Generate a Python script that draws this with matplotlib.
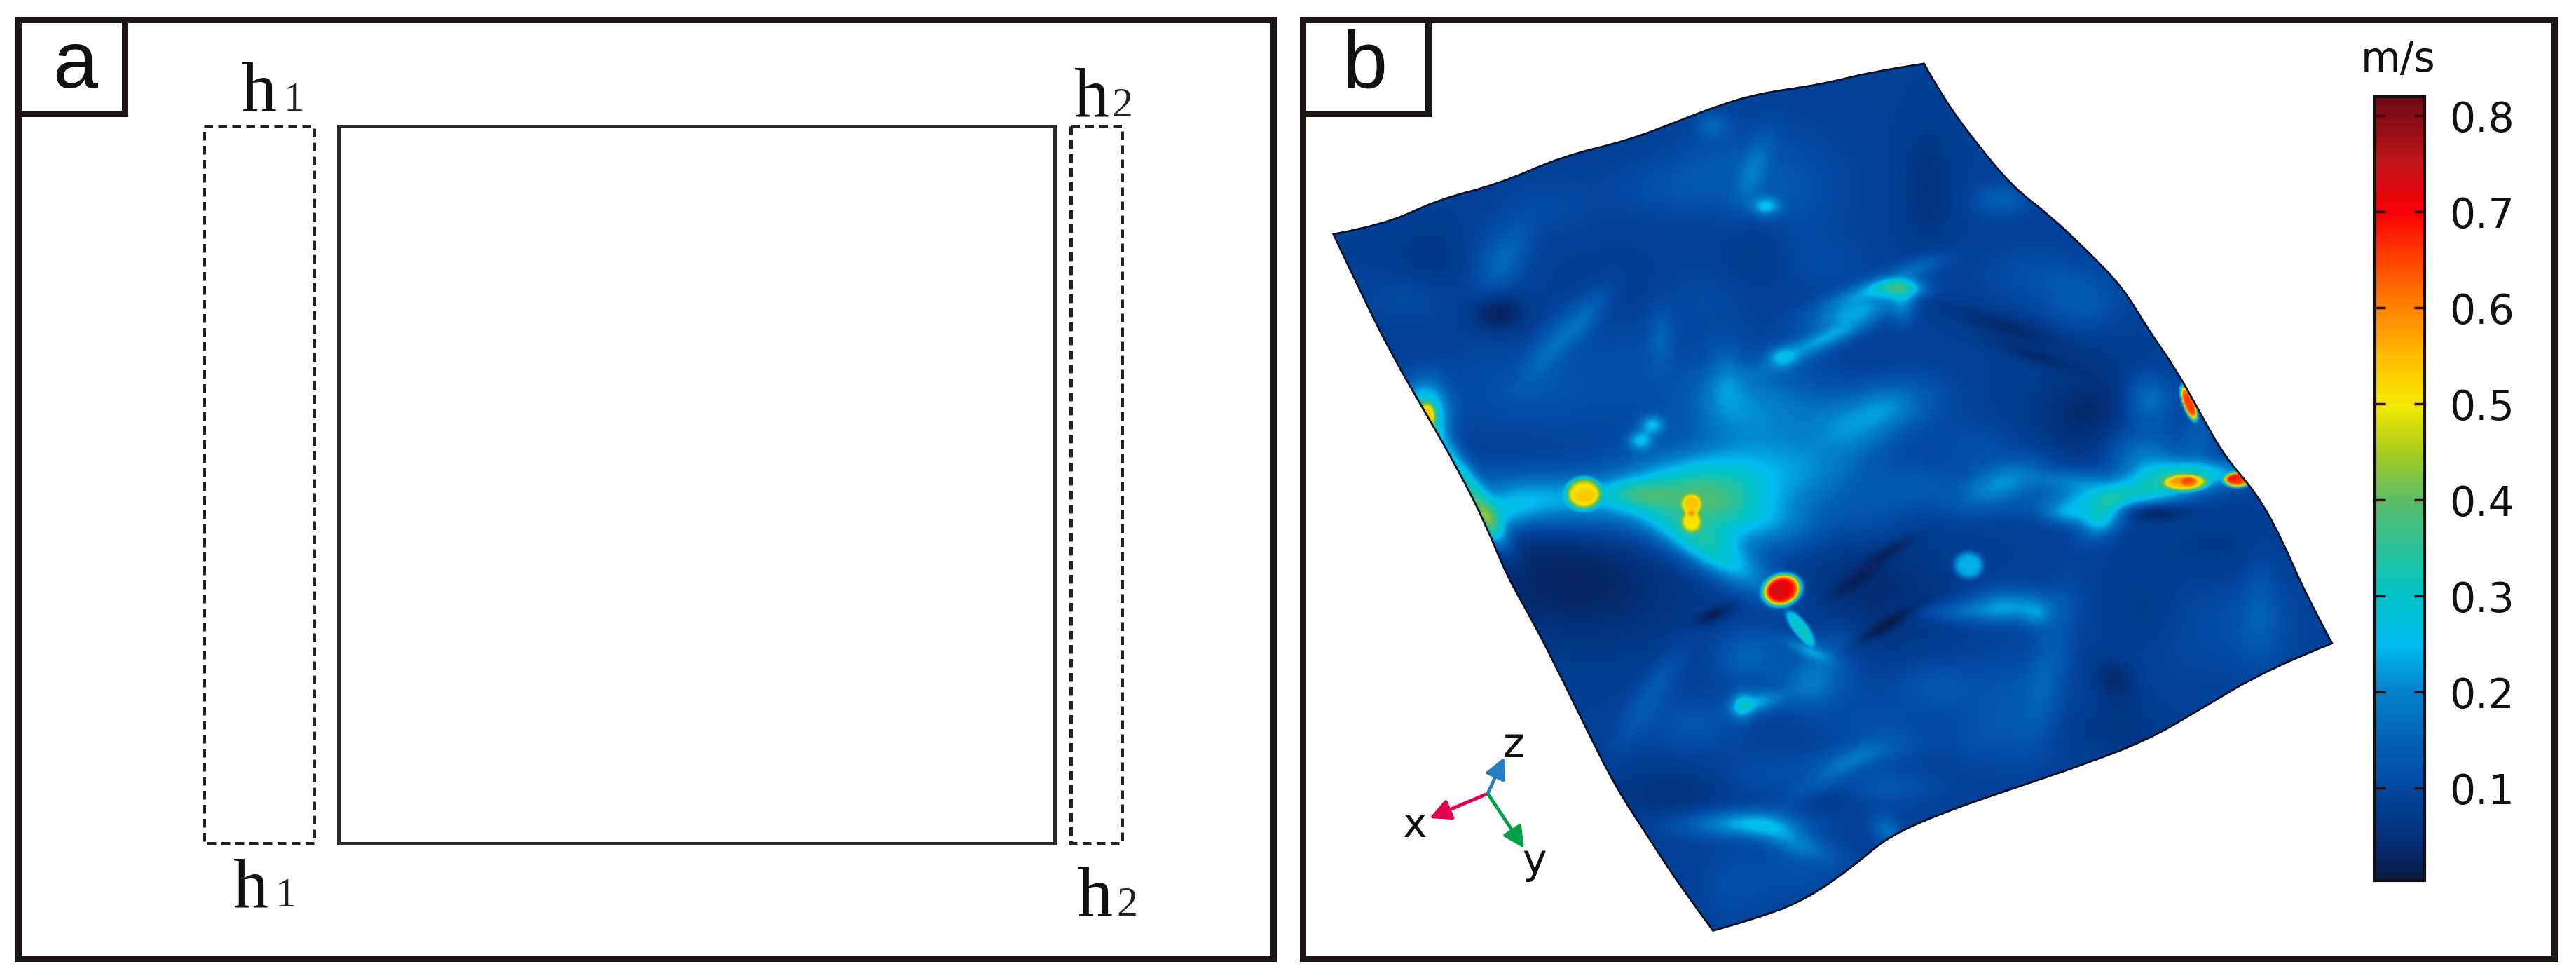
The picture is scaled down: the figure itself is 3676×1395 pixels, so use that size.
import numpy as np
import matplotlib
matplotlib.use("Agg")
import matplotlib.pyplot as plt
from matplotlib.colors import LinearSegmentedColormap, Normalize
from matplotlib.patches import PathPatch, Rectangle
from matplotlib.path import Path

W, H = 3676, 1395

# speed scale, value -> colour
bar_values = [0.004, 0.05, 0.1, 0.15, 0.2, 0.25, 0.3, 0.35, 0.4, 0.45, 0.5, 0.55, 0.6, 0.65, 0.7, 0.75, 0.82]
bar_colors = ["#0a1a46", "#03307c", "#02479f", "#0361b4", "#0382cc", "#02bdee", "#01c4c8", "#2cc29a",
              "#5cbc66", "#a8cc20", "#f6e800", "#ffbb00", "#ff8400", "#ff4400", "#fb0006", "#c4141c", "#6c0a12"]
bar_ticks = [0.1, 0.2, 0.3, 0.4, 0.5, 0.6, 0.7, 0.8]

# outline of the surface, in panel b picture units
edge_u = [37, 100, 165, 240, 320, 400, 470, 510, 560, 640, 700, 765,
          790, 830, 875, 920, 965, 1010, 1040, 1075, 1105, 1135, 1175, 1205, 1235, 1268,
          1190, 1100, 1040, 960, 880, 790, 720, 680, 620, 560, 505,
          465, 425, 385, 350, 320, 285, 250, 225, 190, 150, 110, 75]
edge_v = [375, 360, 320, 295, 250, 225, 190, 170, 150, 135, 115, 102,
          160, 230, 300, 345, 400, 460, 525, 590, 660, 730, 790, 860, 950, 1030,
          1070, 1140, 1185, 1225, 1260, 1300, 1340, 1385, 1440, 1470, 1490,
          1420, 1340, 1260, 1170, 1090, 1000, 920, 840, 750, 660, 570, 480]
edge_corners = [0, 11, 25, 36]

# speed features: centre, spread, tilt, change in m/s
base_speed = 0.088
dark_u = [870, 900, 975, 330, 710, 725, 720, 680, 505, 240, 170, 1050, 1040, 1000, 770, 560, 400, 1120, 450,
          480, 640, 1000]
dark_v = [525, 570, 670, 930, 950, 880, 1000, 930, 985, 500, 420, 820, 980, 1090, 300, 400, 470, 880, 1260,
          1280, 1280, 1170]
dark_su = [60, 40, 55, 105, 65, 30, 40, 30, 20, 24, 50, 28, 32, 18, 22, 30, 55, 60, 70, 50, 30, 50]
dark_sv = [14, 7, 60, 75, 65, 5, 5, 5, 6, 22, 40, 9, 42, 28, 70, 40, 40, 40, 30, 25, 20, 30]
dark_deg = [22, 22, 0, 10, -40, -35, -40, -40, -30, 0, 0, 0, 0, -20, 0, 0, 0, 0, -15, 0, 0, 0]
dark_amp = [-0.05, -0.04, -0.055, -0.06, -0.045, -0.04, -0.05, -0.03, -0.06, -0.07, -0.03, -0.075, -0.025, -0.05,
            -0.035, -0.025, -0.015, -0.02, -0.025, -0.015, -0.015, -0.025]

glow_u = [300, 240, 470, 515, 510, 560, 410, 620, 650, 860, 950, 1040, 1000, 1100, 985, 945, 870, 810,
          150, 195, 228, 735, 690, 680, 660, 740, 620, 590, 570, 555, 505, 430, 415, 680, 720, 540, 250, 345, 300, 520, 440,
          560, 540, 620, 430, 540, 600, 720, 650, 920, 905, 1105, 1040, 860, 760, 1180, 600, 690,
          130, 230, 300, 450, 510, 590, 640, 480, 400, 300, 220, 520, 600, 640, 760, 830, 900, 960, 1050, 590, 700, 750,
          550, 640, 480, 700, 780, 880, 1100, 1180, 560, 600, 530, 720, 830]
glow_v = [800, 825, 790, 830, 890, 760, 790, 1040, 1040, 775, 770, 740, 795, 760, 830, 825, 970, 980,
          660, 760, 840, 462, 470, 500, 530, 490, 560, 570, 330, 270, 200, 680, 705, 680, 650, 660, 410, 510, 560, 600, 540,
          1125, 1130, 1100, 1110, 1320, 1345, 1330, 1240, 1060, 985, 700, 640, 320, 425, 960, 700, 1210,
          470, 420, 330, 300, 260, 300, 420, 480, 600, 620, 620, 640, 650, 760, 640, 720, 440, 480, 640, 840, 830, 780,
          1050, 1090, 1160, 1160, 1100, 1130, 1000, 1000, 1240, 1400, 1420, 1260, 1180]
glow_su = [70, 30, 62, 42, 62, 60, 30, 22, 20, 42, 32, 32, 60, 45, 14, 20, 36, 42,
           18, 9, 8, 20, 45, 40, 42, 8, 45, 10, 10, 10, 12, 8, 8, 35, 25, 45, 15, 12, 12, 15, 8,
           22, 6, 20, 12, 50, 40, 10, 50, 15, 10, 14, 20, 22, 25, 12, 60, 50,
           40, 30, 40, 50, 40, 50, 40, 50, 50, 40, 30, 40, 40, 40, 30, 40, 40, 30, 25, 40, 30, 35,
           30, 30, 40, 40, 40, 40, 60, 30, 50, 40, 25, 40, 30]
glow_sv = [30, 20, 42, 40, 20, 40, 14, 4, 30, 20, 12, 42, 14, 14, 22, 10, 18, 10,
           34, 60, 30, 8, 10, 8, 8, 20, 10, 10, 8, 40, 12, 8, 8, 35, 25, 50, 40, 40, 50, 40, 30,
           10, 14, 30, 60, 14, 14, 16, 10, 80, 14, 30, 30, 16, 8, 60, 50, 14,
           30, 40, 30, 30, 40, 60, 30, 40, 60, 50, 50, 40, 50, 40, 30, 30, 30, 30, 25, 30, 30, 25,
           30, 25, 30, 30, 30, 60, 60, 50, 25, 30, 40, 20, 30]
glow_deg = [5, -15, 0, 0, 40, 0, 0, 30, 30, -30, 0, -40, -8, -4, 30, 0, 0, 0,
            0, -25, -25, 0, -25, -20, -25, 0, -30, 0, 0, 15, 0, 0, 0, -30, 0, 0, 20, 30, 25, 0, 0,
            -20, 0, 0, 25, 0, 30, -30, -40, 10, 0, 0, 0, 0, -25, 0, 0, -15,
            0, 0, 0, 0, 0, 0, 0, 0, 0, 0, 0, 0, 0, 0, 0, 0, 0, 0, 0, 0, 0, 0,
            0, 0, 0, 0, 0, 0, 0, 0, 0, 0, 0, 0, 0]
glow_amp = [0.15, 0.1, 0.21, 0.11, 0.17, 0.08, 0.1, 0.1, 0.05, 0.12, 0.1, 0.12, 0.18, 0.18, 0.17, 0.1, 0.12, 0.06,
            0.24, 0.17, 0.16, 0.2, 0.12, 0.11, 0.09, 0.08, 0.08, 0.09, 0.14, 0.06, 0.06, 0.14, 0.14, 0.1, 0.07, 0.05,
            0.05, 0.07, 0.05, 0.05, 0.05,
            0.13, 0.12, 0.05, 0.05, 0.13, 0.1, 0.08, 0.05, 0.05, 0.06, 0.05, 0.07, 0.06, 0.06, 0.03, 0.03, 0.05,
            0.025, 0.04, 0.02, 0.03, 0.03, 0.04, 0.02, 0.02, 0.03, 0.03, 0.02, 0.05, 0.04, 0.05, 0.04, 0.03, 0.03, 0.05,
            0.03, 0.07, 0.03, 0.05, 0.07, 0.05, 0.04, 0.03, 0.04, 0.04, 0.02, 0.03, 0.03, 0.03, 0.025, 0.04, 0.02]

hot_u = [345, 478, 478, 590, 612, 820, 1088, 1092, 1152, 1092, 152]
hot_v = [790, 808, 836, 945, 1005, 905, 773, 772, 768, 645, 665]
hot_su = [19, 11, 11, 20, 9, 17, 24, 9, 15, 7, 9]
hot_sv = [23, 15, 15, 24, 28, 20, 12, 7, 11, 26, 18]
hot_deg = [0, 0, 0, 30, -30, 0, 0, 0, 0, -15, 0]
hot_amp = [0.3, 0.16, 0.16, 0.6, 0.21, 0.16, 0.25, 0.08, 0.5, 0.55, 0.18]


def add_spots(field, uu, vv, us, vs, sus, svs, degs, amps, power, soften):
    for u, v, su, sv, deg, amp in zip(us, vs, sus, svs, degs, amps):
        t = np.deg2rad(deg)
        a = (uu - u) * np.cos(t) + (vv - v) * np.sin(t)
        b = -(uu - u) * np.sin(t) + (vv - v) * np.cos(t)
        r2 = a ** 2 / (su ** 2 + soften ** 2) + b ** 2 / (sv ** 2 + soften ** 2)
        field += amp * np.exp(-0.5 * r2 ** power)
    return field


def speed_field(uu, vv):
    field = np.full(uu.shape, base_speed)
    add_spots(field, uu, vv, dark_u, dark_v, dark_su, dark_sv, dark_deg, dark_amp, 1, 5)
    add_spots(field, uu, vv, glow_u, glow_v, glow_su, glow_sv, glow_deg, glow_amp, 1, 7)
    add_spots(field, uu, vv, hot_u, hot_v, hot_su, hot_sv, hot_deg, hot_amp, 3, 0)
    return np.clip(field, bar_values[0], bar_values[-1])


def smooth_outline(us, vs, corners):
    # curve through the edge midpoints, keeping the four sharp corners
    n = len(us)
    verts = [(us[0], vs[0])]
    codes = [Path.MOVETO]
    for i in range(1, n + 1):
        j = i % n
        k = (i + 1) % n
        if j in corners:
            verts.append((us[j], vs[j]))
            codes.append(Path.LINETO)
        else:
            end = (us[k], vs[k]) if k in corners else ((us[j] + us[k]) / 2, (vs[j] + vs[k]) / 2)
            verts += [(us[j], vs[j]), end]
            codes += [Path.CURVE3, Path.CURVE3]
    verts.append(verts[0])
    codes.append(Path.CLOSEPOLY)
    return Path(verts, codes)


def boxed_label(ax, x0, y0, x1, y1, lw=6.5):
    ax.add_patch(Rectangle((x0, y0), x1 - x0, y1 - y0, fc="none", ec="#1c1513", lw=lw))


fig = plt.figure(figsize=(W / 100, H / 100), dpi=100, facecolor="white")

# whole picture overlay, in pixels
ax = fig.add_axes([0, 0, 1, 1])
ax.set_xlim(0, W)
ax.set_ylim(H, 0)
ax.axis("off")

# panel a
boxed_label(ax, 26, 28, 1817, 1367)
boxed_label(ax, 26, 28, 178, 162)
ax.text(107, 125, "a", family="Liberation Sans", fontsize=83, ha="center", va="baseline", color="#111111")
ax.add_patch(Rectangle((483, 180), 1022, 1023, fc="none", ec="#2a2a28", lw=3.6))
for x0, x1 in [(291, 448), (1528, 1601)]:
    ax.add_patch(Rectangle((x0, 180), x1 - x0, 1023, fc="none", ec="#222222", lw=3.6,
                           linestyle=(0, (2.5, 1.5))))
for hx, subx, base, sub in [(345, 405, 158, "1"), (1533, 1586, 166, "2"), (333, 393, 1293, "1"), (1538, 1593, 1306, "2")]:
    ax.text(hx, base, "h", family="Liberation Serif", fontsize=72, ha="left", va="baseline", color="#111111")
    ax.text(subx, base, sub, family="Liberation Serif", fontsize=43, ha="left", va="baseline", color="#222222")

# panel b
boxed_label(ax, 1859, 28, 3645, 1367)
boxed_label(ax, 1859, 28, 2038, 162)
ax.text(1948, 125, "b", family="Liberation Sans", fontsize=83, ha="center", va="baseline", color="#111111")

cmap = LinearSegmentedColormap.from_list(
    "speed", [((v - bar_values[0]) / (bar_values[-1] - bar_values[0]), c) for v, c in zip(bar_values, bar_colors)], N=512)
norm = Normalize(bar_values[0], bar_values[-1])

ax_b = fig.add_axes([1860 / W, 1 - 1372 / H, 1792 / W, 1372 / H])
ax_b.set_xlim(0, 1548)
ax_b.set_ylim(1540, 0)
ax_b.axis("off")
uu, vv = np.meshgrid(np.linspace(0, 1548, 900), np.linspace(0, 1540, 900))
im = ax_b.imshow(speed_field(uu, vv), extent=(0, 1548, 1540, 0), cmap=cmap, norm=norm,
                 aspect="auto", interpolation="bilinear")
surface = PathPatch(smooth_outline(edge_u, edge_v, edge_corners), fc="none", ec="#0a0f25", lw=2,
                    transform=ax_b.transData)
ax_b.add_patch(surface)
im.set_clip_path(surface)

# colour bar
cax = fig.add_axes([3389 / W, 1 - 1256 / H, 71 / W, 1118 / H])
cbar = fig.colorbar(im, cax=cax, ticks=bar_ticks)
cbar.ax.set_yticklabels([f"{t:.1f}" for t in bar_ticks], family="DejaVu Sans", fontsize=42, color="#111111")
cbar.ax.tick_params(axis="y", direction="in", length=11, width=2.5, color="#3a0808", left=True, right=True, pad=25)
cbar.outline.set_edgecolor("#14100f")
cbar.outline.set_linewidth(3)
ax.text(3422, 102, "m/s", family="DejaVu Sans", fontsize=42, ha="center", va="baseline", color="#111111")

# axis triad
origin = (2123, 1132)
for tip, color in [((2040, 1167), "#e1004f"), ((2147, 1080), "#2a7dbe"), ((2175, 1210), "#03a04a")]:
    ax.annotate("", xy=tip, xytext=origin,
                arrowprops=dict(arrowstyle="-|>,head_length=1.0,head_width=0.5", color=color, lw=3.5,
                                shrinkA=0, shrinkB=0, mutation_scale=18))
for label, x, y in [("x", 2019, 1177), ("z", 2160, 1063), ("y", 2190, 1229)]:
    ax.text(x, y, label, family="DejaVu Sans", fontsize=42, ha="center", va="center", color="#111111")

fig.savefig("out.png", dpi=100, facecolor="white")
